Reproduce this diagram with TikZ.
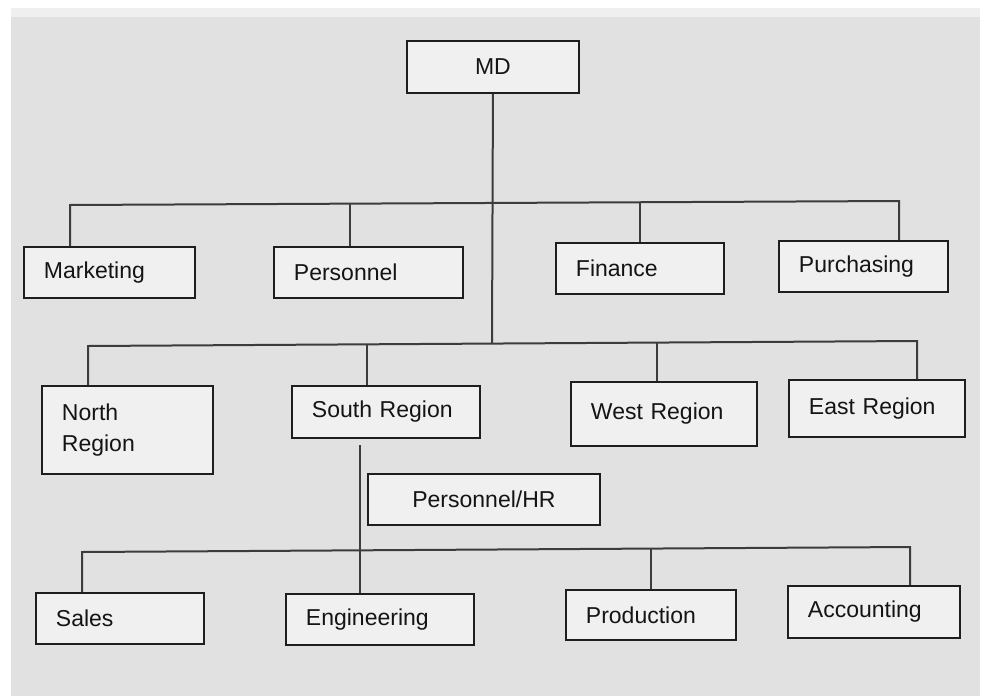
\documentclass[tikz,border=0pt]{standalone}
\usepackage{fontspec}
\setmainfont{Liberation Sans}
\usetikzlibrary{calc}
\definecolor{panel}{HTML}{E1E1E1}
\definecolor{panelstrip}{HTML}{EFEFEF}
\definecolor{boxfill}{HTML}{F0F0F0}
\definecolor{boxline}{HTML}{1E1E1E}
\definecolor{wirecol}{HTML}{3C3C3C}
\definecolor{ink}{HTML}{141414}
\begin{document}
\begin{tikzpicture}[x=1pt,y=-1pt,
  unit/.style={draw=boxline, line width=1.9pt, fill=boxfill, anchor=north west,
    inner xsep=20pt, inner ysep=0pt, align=left, text=ink,
    font=\fontsize{23}{31}\selectfont},
  wire/.style={draw=wirecol, line width=2pt}]

% canvas and grey panel
\useasboundingbox (0,0) rectangle (987,696);
\fill[white] (0,0) rectangle (987,696);
\fill[panel] (11,8) rectangle (980,696);
\fill[panelstrip] (11,8) rectangle (980,17);

% top
\node[unit, align=center, text width=132pt, minimum height=52pt] (md) at (406,40) {MD};

% departments
\node[unit, text width=131pt, minimum height=51pt] (mkt) at (23,246) {Marketing};
\node[unit, text width=149pt, minimum height=51pt] (per) at (273,246) {Personnel};
\node[unit, text width=128pt, minimum height=51pt] (fin) at (555,242) {Finance};
\node[unit, text width=129pt, minimum height=51pt] (pur) at (778,240) {Purchasing};

% regions
\node[unit, text width=131pt, minimum height=88pt] (north) at (41,385) {North\\Region};
\node[unit, text width=148pt, minimum height=52pt] (south) at (291,385) {South Region};
\node[unit, text width=146pt, minimum height=64pt] (west) at (570,381) {West Region};
\node[unit, text width=136pt, minimum height=57pt] (east) at (788,379) {East Region};

% regional functions
\node[unit, align=center, text width=192pt, minimum height=51pt] (hr) at (367,473) {Personnel/HR};
\node[unit, text width=128pt, minimum height=51pt] (sales) at (35,592) {Sales};
\node[unit, text width=148pt, minimum height=51pt] (eng) at (285,593) {Engineering};
\node[unit, text width=130pt, minimum height=50pt] (prod) at (565,589) {Production};
\node[unit, text width=132pt, minimum height=52pt] (acct) at (787,585) {Accounting};

% bus lines
\coordinate (b1l) at (70,205);   \coordinate (b1r) at (899,201);
\coordinate (b1a) at (350,203.65); \coordinate (b1b) at (640,202.25);
\coordinate (b2l) at (88,346);   \coordinate (b2r) at (917,341);
\coordinate (b2a) at (367,344.3); \coordinate (b2b) at (657,342.6);
\coordinate (b2m) at (492,343.6);
\coordinate (b3l) at (82,552);   \coordinate (b3r) at (910,547);
\coordinate (b3b) at (651,548.6);
\coordinate (drop) at (360,445);

% spine from the top down to the regions bus
\draw[wire] (md.south) -- (b2m);

% departments bus
\draw[wire] (b1l |- mkt.north) -- (b1l) -- (b1r) -- (b1r |- pur.north);
\draw[wire] (b1a) -- (b1a |- per.north);
\draw[wire] (b1b) -- (b1b |- fin.north);

% regions bus
\draw[wire] (b2l |- north.north) -- (b2l) -- (b2r) -- (b2r |- east.north);
\draw[wire] (b2a) -- (b2a |- south.north);
\draw[wire] (b2b) -- (b2b |- west.north);

% functions bus
\draw[wire] (b3l |- sales.north) -- (b3l) -- (b3r) -- (b3r |- acct.north);
\draw[wire] (b3b) -- (b3b |- prod.north);
\draw[wire] (drop) -- (drop |- eng.north);
\end{tikzpicture}
\end{document}
